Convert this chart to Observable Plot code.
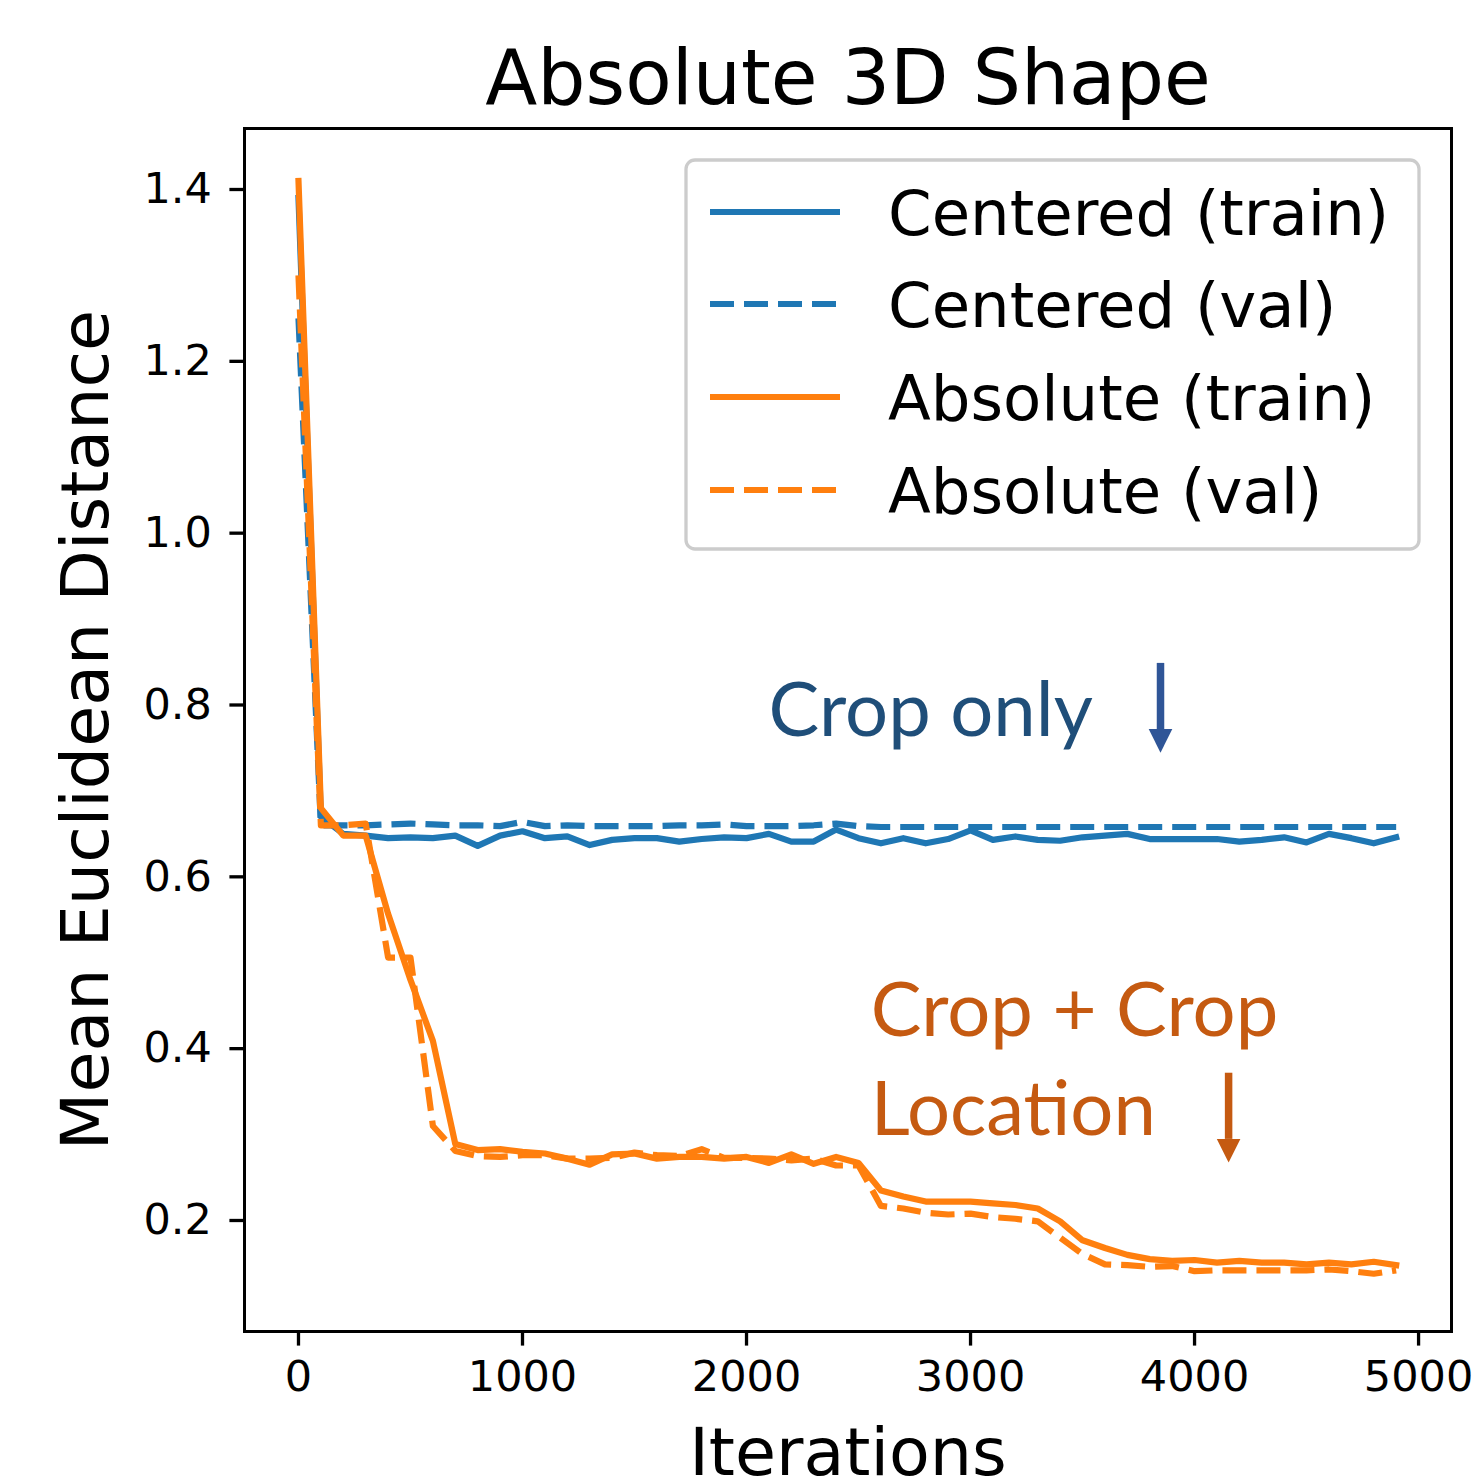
<!DOCTYPE html>
<html>
<head>
<meta charset="utf-8">
<script src="https://cdn.jsdelivr.net/npm/d3@7"></script>
<script src="https://cdn.jsdelivr.net/npm/@observablehq/plot@0.6"></script>
<style>
  html, body { margin: 0; padding: 0; background: white; }
  #chart { position: relative; width: 1473px; height: 1484px; }
</style>
</head>
<body>
<div id="chart"></div>
<script>
const titleText = "Absolute 3D Shape";
const xLabel = "Iterations";
const yLabel = "Mean Euclidean Distance";
const xTicks = [0, 1000, 2000, 3000, 4000, 5000];
const yTicks = [0.2, 0.4, 0.6, 0.8, 1.0, 1.2, 1.4];

const iterations = [
  0, 100, 200, 300, 400, 500, 600, 700, 800, 900,
  1000, 1100, 1200, 1300, 1400, 1500, 1600, 1700, 1800, 1900,
  2000, 2100, 2200, 2300, 2400, 2500, 2600, 2700, 2800, 2900,
  3000, 3100, 3200, 3300, 3400, 3500, 3600, 3700, 3800, 3900,
  4000, 4100, 4200, 4300, 4400, 4500, 4600, 4700, 4800, 4900
];

const centeredTrain = [
  1.39, 0.670, 0.650, 0.648, 0.645, 0.646, 0.645, 0.648, 0.636, 0.648,
  0.653, 0.645, 0.647, 0.637, 0.643, 0.645, 0.645, 0.641, 0.644, 0.646,
  0.645, 0.650, 0.641, 0.641, 0.655, 0.645, 0.639, 0.645, 0.639, 0.644,
  0.654, 0.643, 0.647, 0.643, 0.642, 0.646, 0.648, 0.650, 0.644, 0.644,
  0.644, 0.644, 0.641, 0.643, 0.646, 0.640, 0.650, 0.645, 0.639, 0.646
];

const centeredVal = [
  1.25, 0.660, 0.660, 0.660, 0.661, 0.662, 0.661, 0.660, 0.660, 0.659,
  0.664, 0.659, 0.660, 0.659, 0.659, 0.659, 0.659, 0.660, 0.660, 0.661,
  0.659, 0.659, 0.659, 0.660, 0.662, 0.659, 0.658, 0.658, 0.658, 0.658,
  0.658, 0.658, 0.658, 0.658, 0.658, 0.658, 0.658, 0.658, 0.658, 0.658,
  0.658, 0.658, 0.658, 0.658, 0.658, 0.658, 0.658, 0.658, 0.658, 0.658
];

const absoluteTrain = [
  1.41, 0.680, 0.648, 0.648, 0.557, 0.480, 0.409, 0.289, 0.282, 0.283,
  0.280, 0.278, 0.272, 0.265, 0.277, 0.278, 0.272, 0.274, 0.274, 0.272,
  0.274, 0.267, 0.277, 0.266, 0.274, 0.267, 0.235, 0.228, 0.222, 0.222,
  0.222, 0.220, 0.218, 0.214, 0.199, 0.177, 0.168, 0.160, 0.155, 0.153,
  0.154, 0.151, 0.153, 0.151, 0.151, 0.149, 0.151, 0.149, 0.152, 0.148
];

const absoluteVal = [
  1.30, 0.660, 0.660, 0.662, 0.506, 0.506, 0.310, 0.281, 0.275, 0.274,
  0.276, 0.276, 0.272, 0.272, 0.273, 0.279, 0.276, 0.275, 0.283, 0.273,
  0.273, 0.272, 0.270, 0.272, 0.264, 0.264, 0.217, 0.214, 0.209, 0.207,
  0.208, 0.204, 0.202, 0.199, 0.180, 0.161, 0.149, 0.148, 0.146, 0.147,
  0.141, 0.142, 0.142, 0.142, 0.142, 0.142, 0.143, 0.141, 0.138, 0.142
];

const seriesNames = ["Centered (train)", "Centered (val)", "Absolute (train)", "Absolute (val)"];
const seriesColors = ["#1f77b4", "#1f77b4", "#ff7f0e", "#ff7f0e"];
const seriesDashed = [false, true, false, true];
const seriesValues = [centeredTrain, centeredVal, absoluteTrain, absoluteVal];

const annotationCropOnly = ["Crop only"];
const annotationCropLoc = ["Crop + Crop", "Location"];

const DASH = "24,10";
const LW = 6.2;

// downward filled triangle symbol for arrow heads
const downTriangle = {
  draw(context, size) {
    const r = Math.sqrt(size / Math.PI);
    context.moveTo(-r, 0);
    context.lineTo(r, 0);
    context.lineTo(0, 2 * r);
    context.closePath();
  }
};

const lineMarks = seriesValues.map((vals, k) =>
  Plot.line(iterations, {
    x: d => d,
    y: (d, i) => vals[i],
    stroke: seriesColors[k],
    strokeWidth: LW,
    strokeDasharray: seriesDashed[k] ? DASH : null,
    strokeLinejoin: "round",
    strokeLinecap: seriesDashed[k] ? "butt" : "square"
  })
);

const chart = Plot.plot({
  width: 1473,
  height: 1484,
  marginLeft: 244,
  marginRight: 22,
  marginTop: 128,
  marginBottom: 153,
  style: { fontFamily: "DejaVu Sans", background: "white", color: "black" },
  x: { domain: [-241, 5147] },
  y: { domain: [0.0708, 1.471] },
  marks: [
    ...lineMarks,
    Plot.frame({ stroke: "black", strokeWidth: 3 }),
    Plot.axisX({
      ticks: xTicks, tickSize: 14.6, tickPadding: 14, fontSize: 43,
      strokeWidth: 3.3, tickFormat: d => String(d), label: null
    }),
    Plot.axisY({
      ticks: yTicks, tickSize: 14.6, tickPadding: 18, fontSize: 43,
      strokeWidth: 3.3, tickFormat: d3.format(".1f"), label: null
    }),
    Plot.text([titleText], {
      text: d => d, frameAnchor: "top", lineAnchor: "bottom", dy: -25,
      fontSize: 76, fill: "black"
    }),
    Plot.text([xLabel], {
      text: d => d, frameAnchor: "bottom", lineAnchor: "bottom", dy: 143,
      fontSize: 66.7, fill: "black"
    }),
    Plot.text([yLabel], {
      text: d => d, frameAnchor: "left", lineAnchor: "bottom", rotate: -90,
      dx: -137, fontSize: 66.7, fill: "black", textAnchor: "middle"
    }),
    // Annotations
    Plot.text(annotationCropOnly, {
      x: 2098, y: 0.764, text: d => d, textAnchor: "start", lineAnchor: "bottom",
      fontFamily: "Lato", fontSize: 76, fill: "#1F4E79"
    }),
    Plot.text(annotationCropLoc, {
      x: 2554, y: (d, i) => [0.415, 0.299][i], text: d => d, textAnchor: "start", lineAnchor: "bottom",
      fontFamily: "Lato", fontSize: 76, fill: "#C55A11"
    }),
    Plot.link([0], { x1: 3848, x2: 3848, y1: 0.849, y2: 0.772, stroke: "#2F5597", strokeWidth: 7.5 }),
    Plot.dot([0], { x: 3848, y: 0.772, symbol: downTriangle, r: 11.8, fill: "#2F5597", stroke: "none" }),
    Plot.link([0], { x1: 4152, x2: 4152, y1: 0.372, y2: 0.295, stroke: "#C55A11", strokeWidth: 7.5 }),
    Plot.dot([0], { x: 4152, y: 0.295, symbol: downTriangle, r: 11.8, fill: "#C55A11", stroke: "none" })
  ]
});

document.getElementById("chart").appendChild(chart);

// Legend drawn inside the SVG (upper right, matplotlib-style)
const svg = d3.select(chart);
const lg = svg.append("g").attr("class", "legend").attr("text-anchor", "start");
lg.append("rect")
  .attr("x", 686).attr("y", 160).attr("width", 733).attr("height", 389)
  .attr("rx", 9).attr("ry", 9)
  .attr("fill", "white").attr("fill-opacity", 0.8)
  .attr("stroke", "#cccccc").attr("stroke-width", 3.3);
const rowY = [212, 304, 397, 490];
seriesNames.forEach((name, k) => {
  lg.append("line")
    .attr("x1", 710).attr("x2", 840)
    .attr("y1", rowY[k]).attr("y2", rowY[k])
    .attr("stroke", seriesColors[k]).attr("stroke-width", LW)
    .attr("stroke-dasharray", seriesDashed[k] ? DASH : null)
    .attr("stroke-linecap", "butt");
  lg.append("text")
    .attr("x", 888).attr("y", rowY[k]).attr("dy", "0.36em")
    .attr("text-anchor", "start")
    .attr("font-family", "DejaVu Sans").attr("font-size", 62.5)
    .attr("fill", "black")
    .text(name);
});
</script>
</body>
</html>
